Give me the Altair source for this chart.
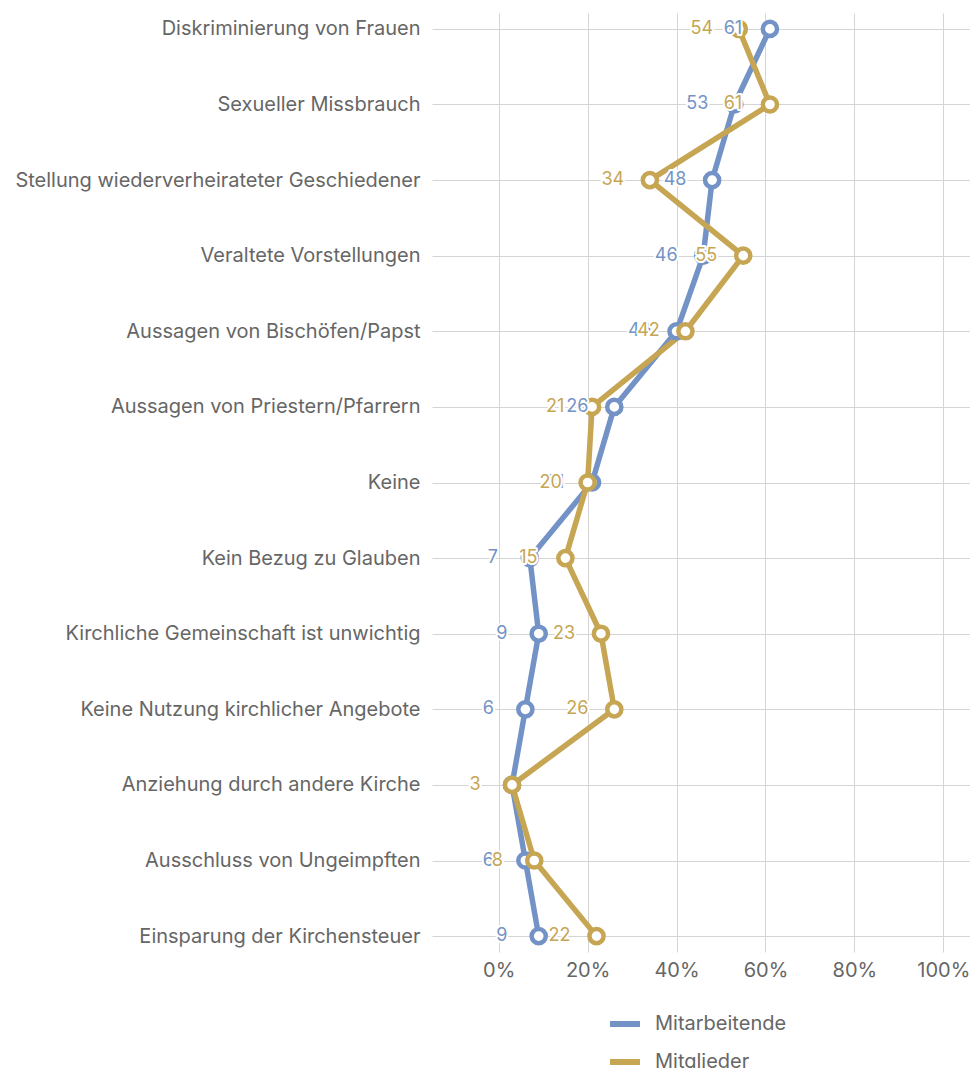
import altair as alt
import pandas as pd

categories = [
    "Diskriminierung von Frauen",
    "Sexueller Missbrauch",
    "Stellung wiederverheirateter Geschiedener",
    "Veraltete Vorstellungen",
    "Aussagen von Bischöfen/Papst",
    "Aussagen von Priestern/Pfarrern",
    "Keine",
    "Kein Bezug zu Glauben",
    "Kirchliche Gemeinschaft ist unwichtig",
    "Keine Nutzung kirchlicher Angebote",
    "Anziehung durch andere Kirche",
    "Ausschluss von Ungeimpften",
    "Einsparung der Kirchensteuer",
]
mitarbeitende = [61, 53, 48, 46, 40, 26, 21, 7, 9, 6, 3, 6, 9]
mitglieder = [54, 61, 34, 55, 42, 21, 20, 15, 23, 26, 3, 8, 22]
series = ["Mitarbeitende", "Mitglieder"]
colors = ["#7393C6", "#C6A553"]
x_ticks = [0, 20, 40, 60, 80, 100]

rows = []
for s, vals in zip(series, [mitarbeitende, mitglieder]):
    for i, (c, v) in enumerate(zip(categories, vals)):
        rows.append({"Kategorie": c, "Wert": v, "Gruppe": s, "idx": i})
df = pd.DataFrame(rows)

FONT = "Inter"
GREY = "#666666"

x_enc = alt.X(
    "Wert:Q",
    scale=alt.Scale(domain=[-15, 106], nice=False, zero=False),
    axis=alt.Axis(
        values=x_ticks,
        labelExpr="datum.value + '%'",
        title=None,
        domain=False,
        ticks=False,
        grid=True,
        gridColor="#d4d4d4",
        labelFontSize=20,
        labelColor=GREY,
        labelFont=FONT,
        labelPadding=8,
    ),
)
y_enc = alt.Y(
    "Kategorie:N",
    sort=categories,
    scale=alt.Scale(type="point", padding=0.21),
    axis=alt.Axis(
        title=None,
        domain=False,
        ticks=False,
        grid=True,
        gridColor="#d4d4d4",
        labelFontSize=20,
        labelColor=GREY,
        labelFont=FONT,
        labelPadding=12,
        labelLimit=600,
    ),
)
color_scale = alt.Scale(domain=series, range=colors)

base = alt.Chart(df)

lines = base.mark_line(strokeWidth=5.5, strokeJoin="round").encode(
    x=x_enc,
    y=y_enc,
    order="idx:Q",
    color=alt.Color(
        "Gruppe:N",
        scale=color_scale,
        sort=series,
        legend=alt.Legend(
            title=None,
            orient="none",
            legendX=175,
            legendY=993,
            direction="vertical",
            symbolType="stroke",
            symbolStrokeWidth=6,
            symbolSize=900,
            labelFontSize=20,
            labelFont=FONT,
            labelColor=GREY,
            rowPadding=8,
            padding=0,
            labelOffset=12,
        ),
    ),
)

points = base.mark_point(
    filled=True, fill="white", size=200, strokeWidth=4.5, opacity=1
).encode(
    x=x_enc,
    y=y_enc,
    stroke=alt.Stroke("Gruppe:N", scale=color_scale, legend=None),
)

layers = [lines, points]
for s in series:
    sub = base.transform_filter(alt.datum.Gruppe == s)
    halo = sub.mark_text(
        dx=-37, align="center", baseline="middle", fontSize=18, font=FONT,
        fill="white", stroke="white", strokeWidth=4, strokeJoin="round",
    ).encode(x=x_enc, y=y_enc, text="Wert:Q")
    txt = sub.mark_text(
        dx=-37, align="center", baseline="middle", fontSize=18, font=FONT,
    ).encode(
        x=x_enc,
        y=y_enc,
        text="Wert:Q",
        color=alt.Color("Gruppe:N", scale=color_scale, legend=None),
    )
    layers += [halo, txt]

chart = (
    alt.layer(*layers)
    .properties(
        width=538,
        height=939,
        background="white",
        autosize=alt.AutoSizeParams(type="none"),
        padding={"left": 424, "top": 5, "right": 0, "bottom": 116},
    )
    .configure_view(stroke=None)
)

chart.save("out.html", embed_options={"renderer": "svg", "actions": False})
